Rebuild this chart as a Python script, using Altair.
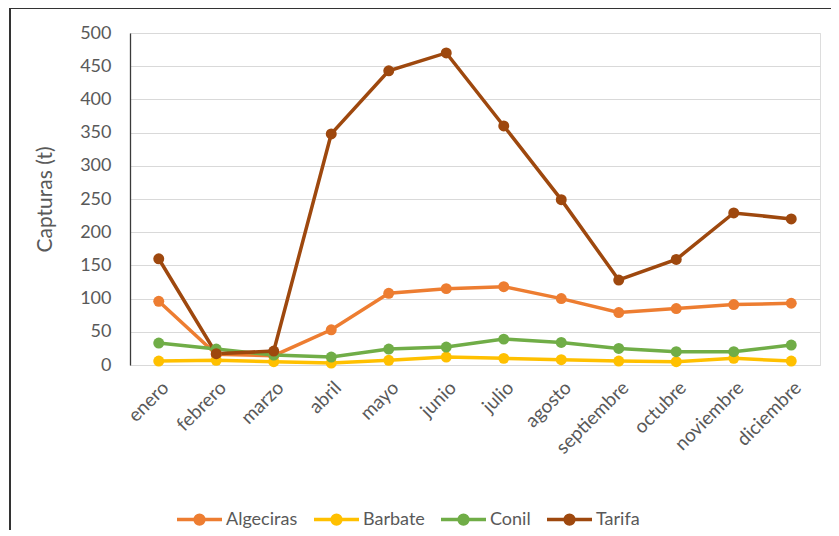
import altair as alt
import pandas as pd

months = ["enero", "febrero", "marzo", "abril", "mayo", "junio", "julio",
          "agosto", "septiembre", "octubre", "noviembre", "diciembre"]
series = ["Algeciras", "Barbate", "Conil", "Tarifa"]
algeciras = [96, 16, 14, 53, 108, 115, 118, 100, 79, 85, 91, 93]
barbate = [6, 7, 5, 3, 7, 12, 10, 8, 6, 5, 10, 6]
conil = [33, 24, 15, 12, 24, 27, 39, 34, 25, 20, 20, 30]
tarifa = [160, 17, 21, 348, 443, 470, 360, 249, 128, 159, 229, 220]
colors = ["#ED7D31", "#FFC000", "#70AD47", "#9E480E"]
y_ticks = [0, 50, 100, 150, 200, 250, 300, 350, 400, 450, 500]

values = {"Algeciras": algeciras, "Barbate": barbate, "Conil": conil, "Tarifa": tarifa}
rows = []
for s in series:
    for i, (m, v) in enumerate(zip(months, values[s])):
        rows.append({"mes": m, "mes_idx": i, "serie": s, "valor": v})
df = pd.DataFrame(rows)

FONT = "Lato"
GRAY = "#595959"

def circ(r):
    return f"M{r},0 A{r},{r} 0 1,1 {-r},0 A{r},{r} 0 1,1 {r},0 "

legend_path = "M-1,0 L1,0 " + circ(0.065) + circ(0.13) + circ(0.195)

color_scale = alt.Scale(domain=series, range=colors)

x_enc = alt.X("mes:N", sort=months, title=None,
              axis=alt.Axis(labelAngle=-45, labelFontSize=19, labelColor=GRAY,
                            labelFont=FONT, domain=False, ticks=False, grid=False,
                            labelPadding=13, labelOverlap=False))
y_enc = alt.Y("valor:Q", scale=alt.Scale(domain=[0, 500], nice=False),
              title="Capturas (t)",
              axis=alt.Axis(values=y_ticks, labelFontSize=18, labelColor=GRAY,
                            labelFont=FONT, titleFont=FONT, titleFontSize=21,
                            titleColor=GRAY, titleFontWeight="normal",
                            titlePadding=24, labelPadding=19, labelOverlap=False,
                            ticks=False, domain=True, domainColor="#3a3a3a",
                            domainWidth=1.3, grid=True, gridColor="#D9D9D9",
                            gridWidth=1))

lines = alt.Chart(df).mark_line(strokeWidth=3.5).encode(
    x=x_enc, y=y_enc,
    color=alt.Color("serie:N", scale=color_scale, sort=series,
                    legend=alt.Legend(title=None, orient="none", direction="horizontal",
                                      legendX=45, legendY=462, columns=4,
                                      symbolType=legend_path, symbolSize=2025,
                                      symbolStrokeWidth=3.5, labelFont=FONT,
                                      labelFontSize=18, labelColor=GRAY,
                                      labelOffset=2, columnPadding=9)),
    order=alt.Order("mes_idx:Q")
)

points = alt.Chart(df).mark_point(filled=True, size=120, opacity=1).encode(
    x=x_enc, y=y_enc,
    color=alt.Color("serie:N", scale=color_scale, sort=series, legend=None),
)

frame = alt.Chart(pd.DataFrame({"a": [0]})).mark_rect(
    fill=None, stroke="#333333", strokeWidth=2
).encode(x=alt.value(-120), x2=alt.value(1000), y=alt.value(-25), y2=alt.value(800))

chart = alt.layer(frame, lines, points).properties(
    width=690, height=332,
    autosize=alt.AutoSizeParams(type="none"),
    padding={"left": 122, "top": 25, "right": 11, "bottom": 165},
).configure_view(stroke=None).configure(font=FONT)

chart.save("out.html", embed_options={"renderer": "svg", "actions": False})
